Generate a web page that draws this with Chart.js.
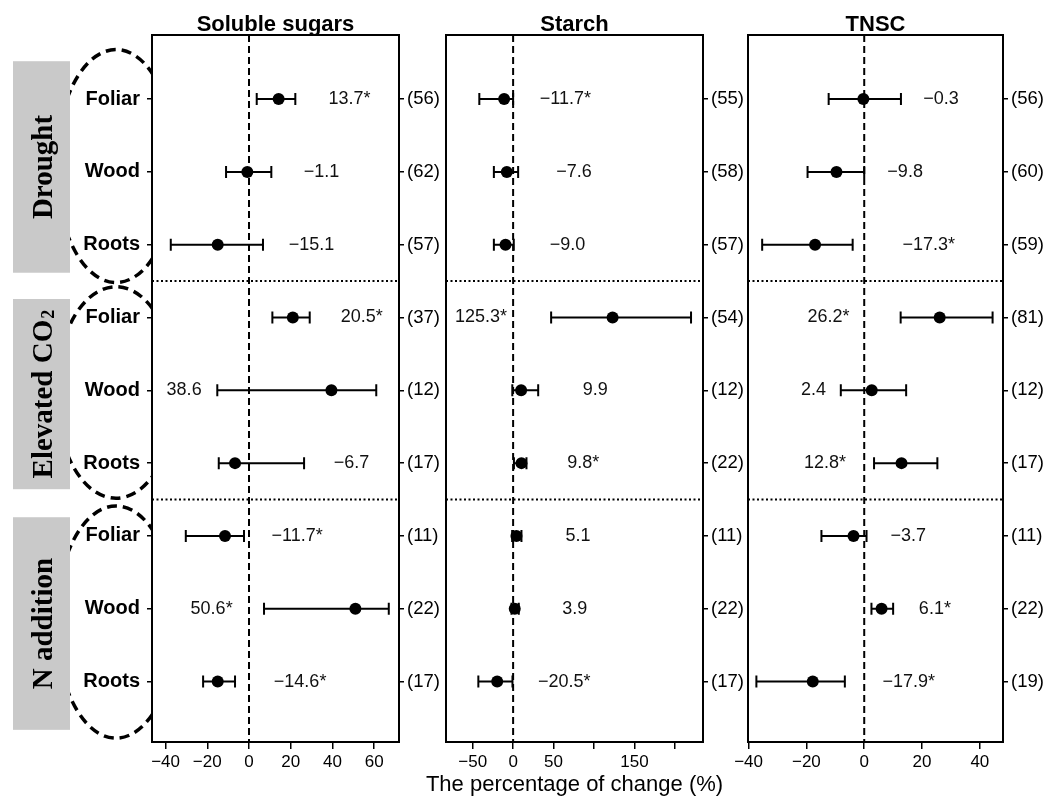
<!DOCTYPE html>
<html>
<head>
<meta charset="utf-8">
<script src="https://cdn.jsdelivr.net/npm/chart.js@4.4.1/dist/chart.umd.min.js"></script>
<style>
  html, body { margin: 0; padding: 0; background: #fff; }
  body { width: 1047px; height: 798px; position: relative; overflow: hidden; }
  canvas { position: absolute; left: 0; top: 0; }
</style>
</head>
<body>
<canvas id="c1" width="1047" height="798"></canvas>
<canvas id="c2" width="1047" height="798"></canvas>
<canvas id="c3" width="1047" height="798"></canvas>
<script>
// ---------- data ----------
const rowNames = ['Foliar', 'Wood', 'Roots', 'Foliar', 'Wood', 'Roots', 'Foliar', 'Wood', 'Roots'];
const rowIndex = [0, 1, 2, 3, 4, 5, 6, 7, 8];
const groupSeparators = [2.5, 5.5];
const groupNames = ['Drought', 'Elevated CO', 'N addition'];
const groupSub = ['', '2', ''];

// Soluble sugars
const ssMean = [14.2, -0.8, -15.0, 21.0, 39.5, -6.7, -11.5, 51.0, -15.0];
const ssLo   = [3.7, -11.0, -37.5, 11.2, -15.2, -14.5, -30.3, 7.2, -22.0];
const ssHi   = [22.2, 10.7, 6.7, 29.1, 61.0, 26.4, -2.4, 67.0, -6.7];
const ssText = ['13.7*', '\u22121.1', '\u221215.1', '20.5*', '38.6', '\u22126.7', '\u221211.7*', '50.6*', '\u221214.6*'];
const ssTextAt = [38.1, 26.2, 19.0, 44.0, -39.5, 40.6, 10.8, -28.0, 11.9];
const ssN    = ['(56)', '(62)', '(57)', '(37)', '(12)', '(17)', '(11)', '(22)', '(17)'];
const ssTicks = [-40, -20, 0, 20, 40, 60];
const ssTickLabels = ['\u221240', '\u221220', '0', '20', '40', '60'];

// Starch
const stMean = [-11.1, -7.8, -9.4, 123.0, 9.9, 10.3, 4.1, 2.0, -19.7];
const stLo   = [-41.8, -23.8, -23.8, 47.0, -1.0, 1.0, -1.2, -2.0, -43.0];
const stHi   = [0.0, 6.2, 0.8, 220.0, 31.0, 16.5, 10.3, 7.0, -0.8];
const stText = ['\u221211.7*', '\u22127.6', '\u22129.0', '125.3*', '9.9', '9.8*', '5.1', '3.9', '\u221220.5*'];
const stTextAt = [32.9, 53.4, 45.2, -71.8, 86.2, 67.0, 64.9, 60.8, 30.8];
const stN    = ['(55)', '(58)', '(57)', '(54)', '(12)', '(22)', '(11)', '(22)', '(17)'];
const stTicks = [-50, 0, 50, 100, 150, 200];
const stTickLabels = ['\u221250', '0', '50', '', '150', ''];

// TNSC
const tnMean = [-0.3, -9.6, -17.0, 26.1, 2.6, 12.9, -3.7, 6.0, -17.8];
const tnLo   = [-12.3, -19.6, -35.3, 12.6, -8.1, 3.4, -14.8, 2.5, -37.3];
const tnHi   = [12.7, 0.0, -4.0, 44.4, 14.5, 25.3, 0.8, 10.0, -6.7];
const tnText = ['\u22120.3', '\u22129.8', '\u221217.3*', '26.2*', '2.4', '12.8*', '\u22123.7', '6.1*', '\u221217.9*'];
const tnTextAt = [20.4, 8.0, 13.2, -19.6, -21.9, -20.8, 9.1, 18.9, 6.3];
const tnN    = ['(56)', '(60)', '(59)', '(81)', '(12)', '(17)', '(11)', '(22)', '(19)'];
const tnTicks = [-40, -20, 0, 20, 40];
const tnTickLabels = ['\u221240', '\u221220', '0', '20', '40'];

const panelTitles = ['Soluble sugars', 'Starch', 'TNSC'];
const xAxisTitle = 'The percentage of change (%)';

// group annotation extents (in row units)
const groupBoxSpan = [[-0.52, 2.385], [2.746, 5.358], [5.743, 8.663]];
const groupOvalSpan = [[-0.68, 2.52], [2.577, 5.482], [5.588, 8.777]];

// ---------- drawing ----------
const W = 1047, H = 798, TOP = 35, BOTTOM = 742;
const Y_LEFT_W = 145, Y_RIGHT_W = 44, X_H = 50;
const FONT = '"Liberation Sans", Arial, Helvetica, sans-serif';
Chart.defaults.font.family = FONT;
Chart.defaults.color = '#000';

function drawGroups(chart) {
  const ctx = chart.ctx, ys = chart.scales.y;
  ctx.save();
  // dashed ovals
  ctx.strokeStyle = '#000';
  ctx.lineWidth = 3.5;
  ctx.setLineDash([10, 6]);
  groupOvalSpan.forEach(s => {
    const y1 = ys.getPixelForValue(s[0]), y2 = ys.getPixelForValue(s[1]);
    ctx.beginPath();
    ctx.ellipse(116, (y1 + y2) / 2, 60, (y2 - y1) / 2, 0, 0, Math.PI * 2);
    ctx.stroke();
  });
  ctx.setLineDash([]);
  // hide the sides of the ovals that sit under the boxes and the panel
  ctx.fillStyle = '#fff';
  // grey boxes with rotated labels
  groupBoxSpan.forEach((s, i) => {
    const y1 = ys.getPixelForValue(s[0]), y2 = ys.getPixelForValue(s[1]);
    ctx.fillStyle = '#c9c9c9';
    ctx.fillRect(13, y1, 57, y2 - y1);
    ctx.save();
    ctx.translate(51.5, (y1 + y2) / 2);
    ctx.rotate(-Math.PI / 2);
    ctx.fillStyle = '#000';
    ctx.textBaseline = 'alphabetic';
    ctx.font = 'bold 29px "Liberation Serif", "Times New Roman", serif';
    const w1 = ctx.measureText(groupNames[i]).width;
    let w2 = 0;
    if (groupSub[i]) {
      ctx.font = 'bold 18px "Liberation Serif", "Times New Roman", serif';
      w2 = ctx.measureText(groupSub[i]).width + 1;
    }
    const x0 = -(w1 + w2) / 2;
    ctx.textAlign = 'left';
    ctx.font = 'bold 29px "Liberation Serif", "Times New Roman", serif';
    ctx.fillText(groupNames[i], x0, 0);
    if (groupSub[i]) {
      ctx.font = 'bold 18px "Liberation Serif", "Times New Roman", serif';
      ctx.fillText(groupSub[i], x0 + w1 + 1, 2);
    }
    ctx.restore();
  });
  ctx.restore();
}

function makePanel(id, p) {
  const plugin = {
    id: 'panel_' + id,
    beforeDraw(chart) {
      const ctx = chart.ctx, a = chart.chartArea;
      if (p.underlay) p.underlay(chart);
      ctx.save();
      ctx.fillStyle = '#fff';
      ctx.fillRect(a.left, a.top, a.right - a.left, a.bottom - a.top);
      ctx.restore();
    },
    beforeDatasetsDraw(chart) {
      const ctx = chart.ctx, a = chart.chartArea, xs = chart.scales.x, ys = chart.scales.y;
      ctx.save();
      const x0 = xs.getPixelForValue(0);
      ctx.strokeStyle = '#000';
      ctx.lineWidth = 2;
      ctx.setLineDash([7, 4]);
      ctx.beginPath(); ctx.moveTo(x0, a.top); ctx.lineTo(x0, a.bottom); ctx.stroke();
      ctx.setLineDash([2, 2.5]);
      groupSeparators.forEach(v => {
        const y = ys.getPixelForValue(v);
        ctx.beginPath(); ctx.moveTo(a.left, y); ctx.lineTo(a.right, y); ctx.stroke();
      });
      ctx.setLineDash([]);
      ctx.lineWidth = 2;
      p.mean.forEach((m, i) => {
        const y = ys.getPixelForValue(rowIndex[i]);
        const xl = xs.getPixelForValue(p.lo[i]), xh = xs.getPixelForValue(p.hi[i]);
        ctx.beginPath();
        ctx.moveTo(xl, y); ctx.lineTo(xh, y);
        ctx.moveTo(xl, y - 6); ctx.lineTo(xl, y + 6);
        ctx.moveTo(xh, y - 6); ctx.lineTo(xh, y + 6);
        ctx.stroke();
      });
      ctx.restore();
    },
    afterDatasetsDraw(chart) {
      const ctx = chart.ctx, a = chart.chartArea, xs = chart.scales.x, ys = chart.scales.y;
      ctx.save();
      ctx.fillStyle = '#111';
      ctx.font = '18px ' + FONT;
      ctx.textAlign = 'left';
      ctx.textBaseline = 'middle';
      p.text.forEach((t, i) => {
        ctx.fillText(t, xs.getPixelForValue(p.textAt[i]), ys.getPixelForValue(rowIndex[i]));
      });
      ctx.strokeStyle = '#000';
      ctx.lineWidth = 2;
      ctx.strokeRect(a.left, a.top, a.right - a.left, a.bottom - a.top);
      ctx.fillStyle = '#000';
      ctx.font = 'bold 22px ' + FONT;
      ctx.textAlign = 'center';
      ctx.textBaseline = 'alphabetic';
      ctx.fillText(p.title, (a.left + a.right) / 2, 31);
      if (p.xTitle) {
        ctx.font = '22px ' + FONT;
        ctx.fillText(p.xTitle, (a.left + a.right) / 2, 791);
      }
      ctx.restore();
    }
  };

  const yCommon = {
    type: 'linear', min: -0.88, max: 8.83, reverse: true,
    afterBuildTicks(s) { s.ticks = rowIndex.map(v => ({ value: v })); },
    border: { display: false },
    grid: { drawOnChartArea: false, drawTicks: true, tickLength: 5, color: '#000', lineWidth: 1.5 }
  };
  const leftW = p.rowLabels ? Y_LEFT_W : 0;

  return new Chart(document.getElementById(id), {
    type: 'scatter',
    data: {
      datasets: [{
        data: p.mean.map((m, i) => ({ x: m, y: rowIndex[i] })),
        pointRadius: 6, pointHoverRadius: 6,
        backgroundColor: '#000', borderColor: '#000', borderWidth: 0
      }]
    },
    options: {
      responsive: false, animation: false, events: [],
      layout: { padding: { left: p.left - leftW, right: W - p.right - Y_RIGHT_W, top: TOP, bottom: H - BOTTOM - X_H } },
      plugins: { legend: { display: false }, tooltip: { enabled: false }, title: { display: false } },
      scales: {
        x: {
          type: 'linear', position: 'bottom', min: p.min, max: p.max,
          afterFit(s) { s.height = X_H; },
          afterBuildTicks(s) { s.ticks = p.ticks.map(v => ({ value: v })); },
          ticks: {
            autoSkip: false, maxRotation: 0, minRotation: 0, padding: 3, color: '#000',
            font: { size: 17 },
            callback: (v) => p.tickLabels[p.ticks.indexOf(v)]
          },
          border: { display: false },
          grid: { drawOnChartArea: false, drawTicks: true, tickLength: 7, color: '#000', lineWidth: 1.5 }
        },
        y: Object.assign({}, yCommon, {
          position: 'left', display: p.rowLabels,
          afterFit(s) { s.width = leftW; },
          ticks: {
            autoSkip: false, padding: 7, color: '#000',
            font: { size: 20, weight: 'bold' },
            callback: (v) => rowNames[Math.round(v)]
          }
        }),
        y2: Object.assign({}, yCommon, {
          position: 'right',
          afterFit(s) { s.width = Y_RIGHT_W; },
          ticks: {
            autoSkip: false, padding: 3, color: '#000',
            font: { size: 18.5 },
            callback: (v) => p.n[Math.round(v)]
          }
        })
      }
    },
    plugins: [plugin]
  });
}

makePanel('c1', {
  mean: ssMean, lo: ssLo, hi: ssHi, text: ssText, textAt: ssTextAt, n: ssN,
  ticks: ssTicks, tickLabels: ssTickLabels, min: -46.5, max: 71.9,
  left: 152, right: 399, title: panelTitles[0], rowLabels: true, underlay: drawGroups
});
makePanel('c2', {
  mean: stMean, lo: stLo, hi: stHi, text: stText, textAt: stTextAt, n: stN,
  ticks: stTicks, tickLabels: stTickLabels, min: -83.0, max: 234.8,
  left: 446, right: 703, title: panelTitles[1], rowLabels: false, xTitle: xAxisTitle
});
makePanel('c3', {
  mean: tnMean, lo: tnLo, hi: tnHi, text: tnText, textAt: tnTextAt, n: tnN,
  ticks: tnTicks, tickLabels: tnTickLabels, min: -40.2, max: 48.0,
  left: 748, right: 1003, title: panelTitles[2], rowLabels: false
});
</script>
</body>
</html>
